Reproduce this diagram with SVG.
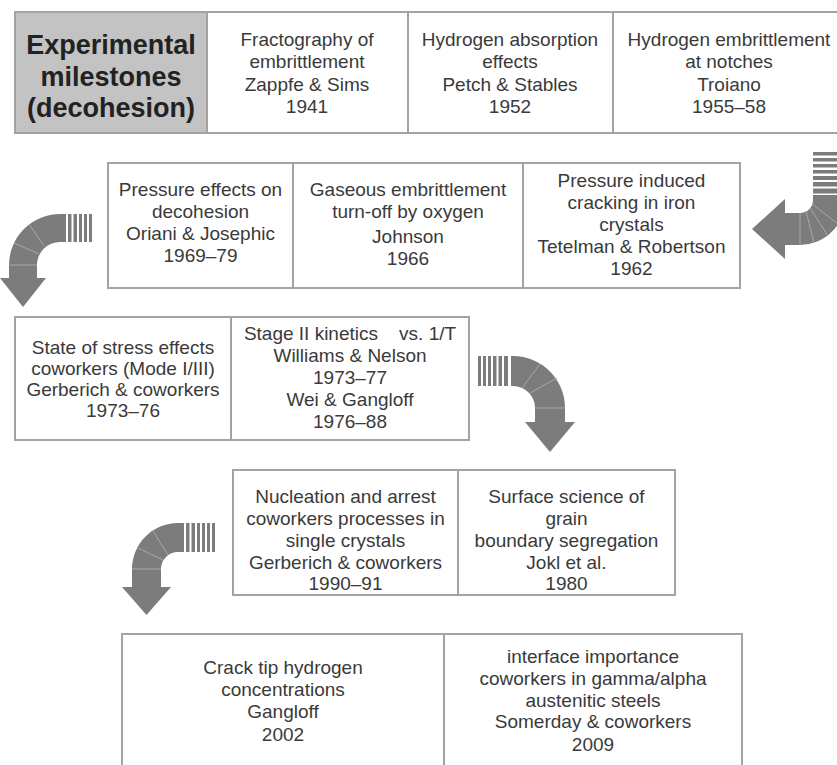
<svg xmlns="http://www.w3.org/2000/svg" width="837" height="765" viewBox="0 0 837 765">
<style>
.box{fill:#fff;stroke:#a3a3a3;stroke-width:2}
.hd{fill:#c3c3c3;stroke:#a3a3a3;stroke-width:2}
.t{font-family:"Liberation Sans",Arial,sans-serif;font-size:19px;fill:#3a3a3a;text-anchor:middle}
.ttl{font-family:"Liberation Sans",Arial,sans-serif;font-size:27px;font-weight:bold;fill:#222;text-anchor:middle}
.arr{fill:#7c7c7c}
.seg{stroke:#a8a8a8;stroke-width:1;fill:none}
</style>
<rect width="837" height="765" fill="#fff"/>

<g id="row1">
  <g id="title">
    <rect class="hd" x="15" y="12" width="192" height="121"/>
    <text class="ttl" x="111" y="54">Experimental</text>
    <text class="ttl" x="111" y="86">milestones</text>
    <text class="ttl" x="111" y="117">(decohesion)</text>
  </g>
  <g id="n1941">
    <rect class="box" x="207" y="12" width="201" height="121"/>
    <text class="t" x="307" y="46">Fractography of</text>
    <text class="t" x="307" y="68">embrittlement</text>
    <text class="t" x="307" y="91">Zappfe &amp; Sims</text>
    <text class="t" x="307" y="113">1941</text>
  </g>
  <g id="n1952">
    <rect class="box" x="408" y="12" width="205" height="121"/>
    <text class="t" x="510" y="46">Hydrogen absorption</text>
    <text class="t" x="510" y="68">effects</text>
    <text class="t" x="510" y="91">Petch &amp; Stables</text>
    <text class="t" x="510" y="113">1952</text>
  </g>
  <g id="n1955">
    <rect class="box" x="613" y="12" width="240" height="121"/>
    <text class="t" x="729" y="46">Hydrogen embrittlement</text>
    <text class="t" x="729" y="68">at notches</text>
    <text class="t" x="729" y="91">Troiano</text>
    <text class="t" x="729" y="113">1955–58</text>
  </g>
</g>

<g id="row2">
  <g id="n1969">
    <rect class="box" x="108" y="163" width="185" height="125"/>
    <text class="t" x="200.5" y="196">Pressure effects on</text>
    <text class="t" x="200.5" y="218">decohesion</text>
    <text class="t" x="200.5" y="240">Oriani &amp; Josephic</text>
    <text class="t" x="200.5" y="262">1969–79</text>
  </g>
  <g id="n1966">
    <rect class="box" x="293" y="163" width="230" height="125"/>
    <text class="t" x="408" y="196">Gaseous embrittlement</text>
    <text class="t" x="408" y="218">turn-off by oxygen</text>
    <text class="t" x="408" y="243">Johnson</text>
    <text class="t" x="408" y="265">1966</text>
  </g>
  <g id="n1962">
    <rect class="box" x="523" y="163" width="217" height="125"/>
    <text class="t" x="631.5" y="187">Pressure induced</text>
    <text class="t" x="631.5" y="209">cracking in iron</text>
    <text class="t" x="631.5" y="231">crystals</text>
    <text class="t" x="631.5" y="253">Tetelman &amp; Robertson</text>
    <text class="t" x="631.5" y="275">1962</text>
  </g>
</g>

<g id="row3">
  <g id="n1973">
    <rect class="box" x="15" y="317" width="216" height="123"/>
    <text class="t" x="123" y="354">State of stress effects</text>
    <text class="t" x="123" y="375">coworkers (Mode I/III)</text>
    <text class="t" x="123" y="396">Gerberich &amp; coworkers</text>
    <text class="t" x="123" y="417">1973–76</text>
  </g>
  <g id="n1976">
    <rect class="box" x="231" y="317" width="238" height="123"/>
    <text class="t" x="350" y="340" style="white-space:pre">Stage II kinetics    vs. 1/T</text>
    <text class="t" x="350" y="362">Williams &amp; Nelson</text>
    <text class="t" x="350" y="384">1973–77</text>
    <text class="t" x="350" y="406">Wei &amp; Gangloff</text>
    <text class="t" x="350" y="428">1976–88</text>
  </g>
</g>

<g id="row4">
  <g id="n1990">
    <rect class="box" x="233" y="470" width="225" height="125"/>
    <text class="t" x="345.5" y="503">Nucleation and arrest</text>
    <text class="t" x="345.5" y="525">coworkers processes in</text>
    <text class="t" x="345.5" y="547">single crystals</text>
    <text class="t" x="345.5" y="569">Gerberich &amp; coworkers</text>
    <text class="t" x="345.5" y="590">1990–91</text>
  </g>
  <g id="n1980">
    <rect class="box" x="458" y="470" width="217" height="125"/>
    <text class="t" x="566.5" y="503">Surface science of</text>
    <text class="t" x="566.5" y="525">grain</text>
    <text class="t" x="566.5" y="547">boundary segregation</text>
    <text class="t" x="566.5" y="569">Jokl et al.</text>
    <text class="t" x="566.5" y="590">1980</text>
  </g>
</g>

<g id="row5">
  <g id="n2002">
    <rect class="box" x="122" y="634" width="322" height="150"/>
    <text class="t" x="283" y="674">Crack tip hydrogen</text>
    <text class="t" x="283" y="696">concentrations</text>
    <text class="t" x="283" y="718">Gangloff</text>
    <text class="t" x="283" y="741">2002</text>
  </g>
  <g id="n2009">
    <rect class="box" x="444" y="634" width="298" height="150"/>
    <text class="t" x="593" y="663">interface importance</text>
    <text class="t" x="593" y="685">coworkers in gamma/alpha</text>
    <text class="t" x="593" y="707">austenitic steels</text>
    <text class="t" x="593" y="728">Somerday &amp; coworkers</text>
    <text class="t" x="593" y="751">2009</text>
  </g>
</g>

<g id="connectors">
  <g id="arrow1">
    <path class="arr" d="M813 198 L845 198 L845 200 A45 45 0 0 1 800 245 L785 245 L785 259 L752 229 L785 199 L785 213 L800 213 A13 13 0 0 0 813 200 Z"/>
    <g class="arr">
      <rect x="813" y="152" width="32" height="3.5"/>
      <rect x="813" y="158" width="32" height="3.5"/>
      <rect x="813" y="164" width="32" height="3.5"/>
      <rect x="813" y="170" width="32" height="3.5"/>
      <rect x="813" y="176" width="32" height="4"/>
      <rect x="813" y="182" width="32" height="4.5"/>
      <rect x="813" y="188.5" width="32" height="5"/>
      <rect x="813" y="195" width="32" height="4"/>
    </g>
    <path class="seg" d="M800 213 L800 245 M806 211 L814 243 M810 208 L828 236 M812 204 L838 224"/>
  </g>
  <g id="arrow2">
    <path class="arr" d="M62 214 L60 214 A51 51 0 0 0 9 265 L9 278 L0 278 L23 307 L46 278 L37 278 L37 265 A23 23 0 0 1 60 242 L62 242 Z"/>
    <g class="arr">
      <rect x="62" y="214" width="4" height="28"/>
      <rect x="68" y="214" width="3.5" height="28"/>
      <rect x="73.5" y="214" width="3.5" height="28"/>
      <rect x="79" y="214" width="3" height="28"/>
      <rect x="84" y="214" width="3" height="28"/>
      <rect x="89" y="214" width="3" height="28"/>
    </g>
    <path class="seg" d="M9 265 L37 265 M14 243 L39 254 M29 224 L44 246"/>
  </g>
  <g id="arrow3">
    <path class="arr" d="M511 356 L513 356 A52 52 0 0 1 565 408 L565 422 L575 422 L550 452 L525 422 L535 422 L535 408 A22 22 0 0 0 513 386 L511 386 Z"/>
    <g class="arr">
      <rect x="478" y="356" width="3" height="30"/>
      <rect x="483" y="356" width="3" height="30"/>
      <rect x="488" y="356" width="3" height="30"/>
      <rect x="493" y="356" width="3.5" height="30"/>
      <rect x="498.5" y="356" width="3.5" height="30"/>
      <rect x="504" y="356" width="4" height="30"/>
    </g>
    <path class="seg" d="M535 408 L565 408 M530 393 L557 378 M522 388 L540 364"/>
  </g>
  <g id="arrow4">
    <path class="arr" d="M180 523 L178 523 A46 46 0 0 0 132 569 L132 587 L122 587 L146.5 615 L171 587 L161 587 L161 569 A17 17 0 0 1 178 552 L180 552 Z"/>
    <g class="arr">
      <rect x="180" y="523" width="4" height="29"/>
      <rect x="186" y="523" width="3.5" height="29"/>
      <rect x="191.5" y="523" width="3.5" height="29"/>
      <rect x="197" y="523" width="3" height="29"/>
      <rect x="202" y="523" width="3" height="29"/>
      <rect x="207" y="523" width="3" height="29"/>
      <rect x="212" y="523" width="3" height="29"/>
    </g>
    <path class="seg" d="M132 569 L161 569 M138 548 L163 560 M153 531 L168 555"/>
  </g>
</g>
</svg>
